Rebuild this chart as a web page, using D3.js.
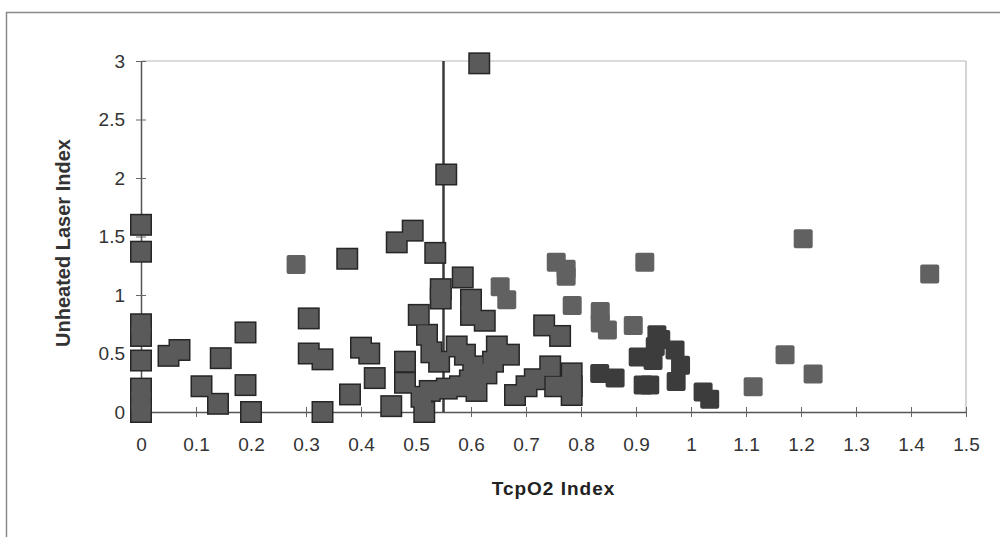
<!DOCTYPE html>
<html>
<head>
<meta charset="utf-8">
<script src="https://cdn.jsdelivr.net/npm/d3@7"></script>
<style>
  body { margin: 0; background: #fff; }
  svg { display: block; font-family: "Liberation Sans", Arial, sans-serif; }
</style>
</head>
<body>
<svg id="chart"></svg>
<script>
const WIDTH = 1000;
const HEIGHT = 537;

// Tick values
const xTicks = [0, 0.1, 0.2, 0.3, 0.4, 0.5, 0.6, 0.7, 0.8, 0.9, 1, 1.1, 1.2, 1.3, 1.4, 1.5];
const yTicks = [0, 0.5, 1, 1.5, 2, 2.5, 3];

// Reference line position (TcpO2 Index)
const cutoffX = 0.55;

// Outlined squares [TcpO2 Index, Unheated Laser Index]
const outlinedPoints = [
  [0, 1.6], [0, 1.37], [0, 0.75], [0, 0.65], [0, 0.44], [0, 0.2], [0, 0.1], [0, 0],
  [0.05, 0.48], [0.07, 0.53], [0.11, 0.22], [0.14, 0.07], [0.145, 0.46],
  [0.19, 0.68], [0.19, 0.23], [0.2, 0],
  [0.305, 0.8], [0.305, 0.5], [0.33, 0.45], [0.33, 0], [0.375, 1.31], [0.38, 0.15],
  [0.4, 0.55], [0.415, 0.5], [0.425, 0.29],
  [0.455, 0.05], [0.465, 1.45], [0.48, 0.43], [0.48, 0.25], [0.494, 1.55],
  [0.505, 0.83], [0.51, 0.13], [0.515, 0], [0.52, 0.66], [0.525, 0.18], [0.528, 0.51],
  [0.535, 1.36], [0.542, 0.43], [0.545, 1.05], [0.545, 0.97], [0.555, 2.03], [0.556, 0.2],
  [0.574, 0.56], [0.58, 0.22], [0.585, 1.15], [0.589, 0.49], [0.598, 0.27],
  [0.6, 0.96], [0.6, 0.83], [0.604, 0.39], [0.61, 0.18], [0.615, 2.98], [0.625, 0.78],
  [0.628, 0.33], [0.64, 0.43], [0.647, 0.56], [0.669, 0.49],
  [0.68, 0.145], [0.701, 0.22], [0.716, 0.28], [0.733, 0.74], [0.744, 0.39],
  [0.753, 0.22], [0.762, 0.65], [0.783, 0.33], [0.783, 0.22], [0.783, 0.145]
];

// Plain mid-grey squares
const greyPoints = [
  [0.282, 1.26], [0.653, 1.07], [0.665, 0.96], [0.755, 1.28], [0.773, 1.22], [0.773, 1.16],
  [0.784, 0.91], [0.835, 0.86], [0.835, 0.76], [0.848, 0.7], [0.895, 0.74], [0.916, 1.28],
  [1.113, 0.215], [1.171, 0.49], [1.204, 1.48], [1.222, 0.325], [1.434, 1.18]
];

// Dark squares
const darkPoints = [
  [0.834, 0.33], [0.862, 0.29], [0.904, 0.47], [0.913, 0.23], [0.925, 0.23], [0.931, 0.44],
  [0.935, 0.56], [0.938, 0.66], [0.945, 0.62], [0.971, 0.53], [0.981, 0.4], [0.973, 0.26],
  [1.022, 0.17], [1.034, 0.11]
];

const svg = d3.select("#chart").attr("width", WIDTH).attr("height", HEIGHT);

const x = d3.scaleLinear().domain([0, 1.5]).range([141, 966]);
const y = d3.scaleLinear().domain([0, 3]).range([412, 61]);

// outer chart border
svg.append("rect")
  .attr("x", 6.5).attr("y", 12.5)
  .attr("width", 1000).attr("height", 600)
  .attr("fill", "none")
  .attr("stroke", "#8a8a8a")
  .attr("stroke-width", 1.5);

// plot area frame (top / right)
svg.append("line")
  .attr("x1", x(0)).attr("x2", x(1.5))
  .attr("y1", y(3)).attr("y2", y(3))
  .attr("stroke", "#b8b8b8").attr("stroke-width", 1.2);
svg.append("line")
  .attr("x1", x(1.5)).attr("x2", x(1.5))
  .attr("y1", y(3)).attr("y2", y(0))
  .attr("stroke", "#b8b8b8").attr("stroke-width", 1.2);

// axes
const xAxis = svg.append("g")
  .attr("transform", "translate(0," + y(0) + ")")
  .call(d3.axisBottom(x).tickValues(xTicks).tickFormat(d => String(d)).tickSizeOuter(0));
const yAxis = svg.append("g")
  .attr("transform", "translate(" + x(0) + ",0)")
  .call(d3.axisLeft(y).tickValues(yTicks).tickFormat(d => String(d)).tickSizeOuter(0));

xAxis.select(".domain").attr("stroke", "#555").attr("stroke-width", 1.5);
yAxis.select(".domain").attr("stroke", "#555").attr("stroke-width", 1.5);
// ticks cross the axis line
xAxis.selectAll(".tick line").attr("y1", -5).attr("y2", 5).attr("stroke", "#666");
yAxis.selectAll(".tick line").attr("x1", -5).attr("x2", 5).attr("stroke", "#666");
xAxis.selectAll(".tick text")
  .attr("y", 26)
  .attr("font-size", 19)
  .attr("font-family", "Liberation Sans, Arial, sans-serif")
  .attr("fill", "#333");
yAxis.selectAll(".tick text")
  .attr("x", -16)
  .attr("font-size", 19)
  .attr("font-family", "Liberation Sans, Arial, sans-serif")
  .attr("fill", "#333");

// cutoff line
svg.append("line")
  .attr("x1", x(cutoffX)).attr("x2", x(cutoffX))
  .attr("y1", y(0)).attr("y2", y(3))
  .attr("stroke", "#3a3a3a")
  .attr("stroke-width", 2.5);

const SIZE = 19;

function squares(g, data, rx) {
  return g.selectAll("rect")
    .data(data)
    .enter()
    .append("rect")
    .attr("x", d => x(d[0]) - SIZE / 2)
    .attr("y", d => y(d[1]) - SIZE / 2)
    .attr("width", SIZE)
    .attr("height", SIZE)
    .attr("rx", rx);
}

// outlined series: outline layer first, fills on top, so touching squares merge into one shape
squares(svg.append("g"), outlinedPoints, 0)
  .attr("fill", "#262626")
  .attr("stroke", "#262626")
  .attr("stroke-width", 3);
squares(svg.append("g"), outlinedPoints, 0)
  .attr("fill", "#5a5a5a");

squares(svg.append("g"), greyPoints, 2).attr("fill", "#616161");
squares(svg.append("g"), darkPoints, 2).attr("fill", "#3c3c3c");

// axis titles
svg.append("text")
  .attr("x", (x(0) + x(1.5)) / 2)
  .attr("y", 495)
  .attr("text-anchor", "middle")
  .attr("font-size", 19)
  .attr("font-weight", "bold")
  .attr("letter-spacing", 1)
  .attr("fill", "#222")
  .text("TcpO2 Index");

svg.append("text")
  .attr("transform", "translate(70,243) rotate(-90)")
  .attr("text-anchor", "middle")
  .attr("font-size", 20)
  .attr("font-weight", "bold")
  .attr("fill", "#333")
  .text("Unheated Laser Index");
</script>
</body>
</html>
